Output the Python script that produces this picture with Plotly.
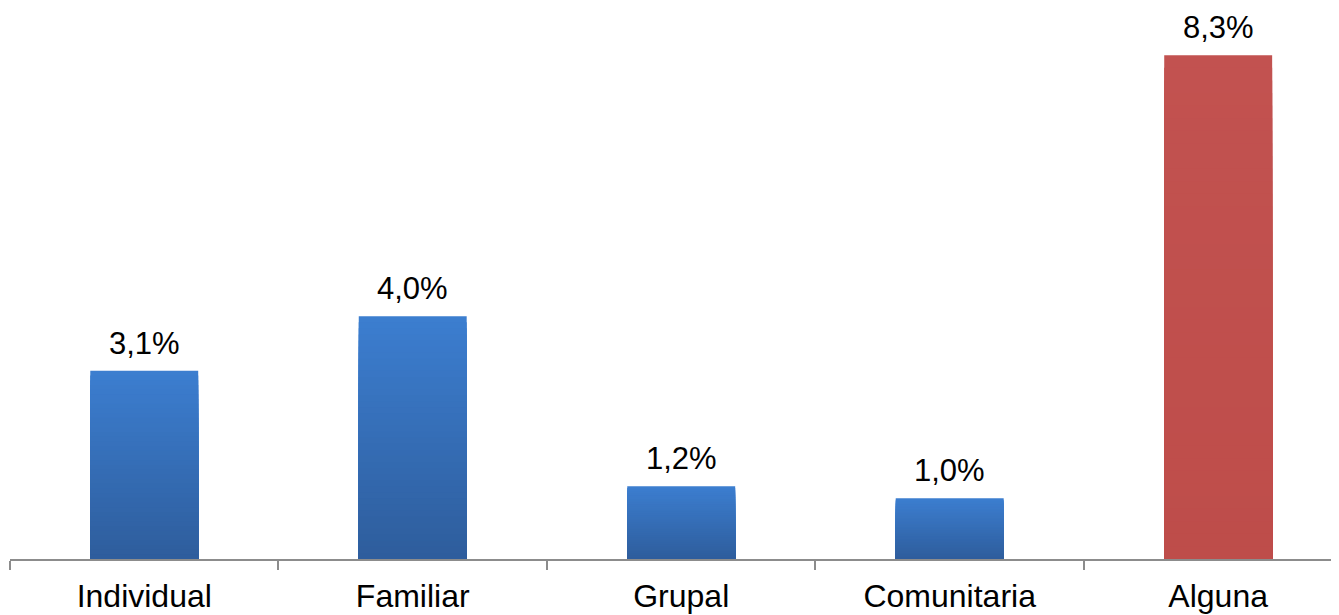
import plotly.graph_objects as go

categories = ["Individual", "Familiar", "Grupal", "Comunitaria", "Alguna"]
values = [3.1, 4.0, 1.2, 1.0, 8.3]
labels = ["3,1%", "4,0%", "1,2%", "1,0%", "8,3%"]

blue_top, blue_bot = (60, 126, 208), (46, 93, 156)
red_top, red_bot = (194, 82, 80), (190, 77, 74)
tops = [blue_top, blue_top, blue_top, blue_top, red_top]
bots = [blue_bot, blue_bot, blue_bot, blue_bot, red_bot]

N = 40
fig = go.Figure()
for i in range(N):
    frac_h = (N - i) / N          # bar height fraction (tall first)
    f = frac_h - 0.5 / N          # colour position, 1 = top
    cols = []
    for t, b in zip(tops, bots):
        c = tuple(round(b[k] + (t[k] - b[k]) * f) for k in range(3))
        cols.append("rgb(%d,%d,%d)" % c)
    fig.add_trace(go.Bar(
        x=categories,
        y=[v * frac_h for v in values],
        width=0.402,
        marker=dict(color=cols, line=dict(width=0)),
        hoverinfo="skip",
        showlegend=False,
    ))

annotations = [
    dict(x=c, y=v, text=t, showarrow=False, xanchor="center", yanchor="bottom",
         yshift=8, font=dict(family="Liberation Sans, Arial", size=31, color="#000"))
    for c, v, t in zip(categories, values, labels)
]

fig.update_layout(
    width=1331, height=607,
    margin=dict(l=2, r=0, t=0, b=56),
    paper_bgcolor="white", plot_bgcolor="white",
    barmode="overlay",
    annotations=annotations,
    xaxis=dict(
        type="category",
        range=[-0.5, 4.45],
        showline=True, linecolor="#8c8c8c", linewidth=1.5,
        ticks="outside", tickson="boundaries", ticklen=9, tickcolor="#8c8c8c", tickwidth=1.5,
        showgrid=False, zeroline=False,
        tickfont=dict(family="Liberation Sans, Arial", size=32, color="#000"),
        ticklabelstandoff=8,
    ),
    yaxis=dict(range=[0, 551 / 60.7], visible=False, showgrid=False, zeroline=False),
)

fig.write_html("out.html")
